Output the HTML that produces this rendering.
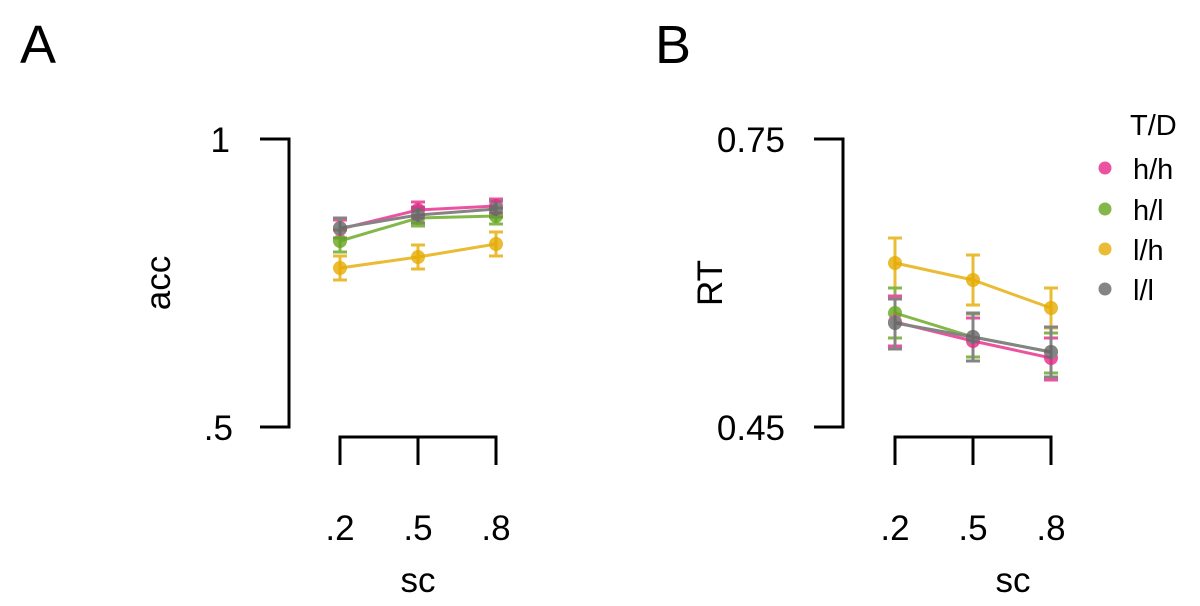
<!DOCTYPE html>
<html><head><style>body{margin:0;background:#fff}svg{display:block}text{font-family:"Liberation Sans",sans-serif;fill:#000}</style></head>
<body>
<svg width="1200" height="606" viewBox="0 0 1200 606" xmlns="http://www.w3.org/2000/svg">
<text x="20" y="63" font-size="54">A</text>
<text x="655" y="63" font-size="54">B</text>
<g stroke="#000" stroke-width="3" fill="none">
<path d="M260 139H289V427H260"/>
<path d="M340 465V437H496V465M418 437V465"/>
<path d="M814 139H843V427H814"/>
<path d="M895 465V437H1051V465M973 437V465"/>
</g>
<g font-size="35" text-anchor="end">
<text x="230" y="152">1</text>
<text x="233" y="440">.5</text>
<text x="785" y="152">0.75</text>
<text x="785" y="440">0.45</text>
</g>
<g font-size="35" text-anchor="middle">
<text x="340" y="540">.2</text><text x="418" y="540">.5</text><text x="496" y="540">.8</text>
<text x="895" y="540">.2</text><text x="973" y="540">.5</text><text x="1051" y="540">.8</text>
<text x="418" y="592">sc</text>
<text x="1013" y="592">sc</text>
<text transform="translate(170,283) rotate(-90)">acc</text>
<text transform="translate(722,283) rotate(-90)">RT</text>
</g>
<g stroke-width="3" fill="none" opacity="0.8">
<g stroke="#e6ab02"><path d="M340 268L418 257L496 244"/><path d="M340 256V280M333 256H347M333 280H347M418 245V269M411 245H425M411 269H425M496 232V256M489 232H503M489 256H503"/></g>
<g stroke="#66a61e"><path d="M340 241L418 218L496 216"/><path d="M340 230V252M333 230H347M333 252H347M418 210V226M411 210H425M411 226H425M496 208V224M489 208H503M489 224H503"/></g>
<g stroke="#e7298a"><path d="M340 229L418 210L496 206"/><path d="M340 220V238M333 220H347M333 238H347M418 202V218M411 202H425M411 218H425M496 199V213M489 199H503M489 213H503"/></g>
<g stroke="#666"><path d="M340 228L418 215L496 209"/><path d="M340 218V238M333 218H347M333 238H347M418 207V223M411 207H425M411 223H425M496 201V217M489 201H503M489 217H503"/></g>
<g stroke="#e6ab02"><path d="M895 263L973 280L1051 308"/><path d="M895 238V288M888 238H902M888 288H902M973 255V305M966 255H980M966 305H980M1051 288V328M1044 288H1058M1044 328H1058"/></g>
<g stroke="#66a61e"><path d="M895 313L973 337L1051 352"/><path d="M895 288V338M888 288H902M888 338H902M973 314V357M966 314H980M966 357H980M1051 333V373M1044 333H1058M1044 373H1058"/></g>
<g stroke="#e7298a"><path d="M895 322L973 341L1051 358"/><path d="M895 296V346M888 296H902M888 346H902M973 318V361M966 318H980M966 361H980M1051 338V380M1044 338H1058M1044 380H1058"/></g>
<g stroke="#666"><path d="M895 323L973 337L1051 352"/><path d="M895 299V349M888 299H902M888 349H902M973 313V361M966 313H980M966 361H980M1051 327V377M1044 327H1058M1044 377H1058"/></g>
</g>
<g opacity="0.8">
<circle cx="340" cy="268" r="7" fill="#e6ab02"/><circle cx="418" cy="257" r="7" fill="#e6ab02"/><circle cx="496" cy="244" r="7" fill="#e6ab02"/>
<circle cx="340" cy="241" r="7" fill="#66a61e"/><circle cx="418" cy="218" r="7" fill="#66a61e"/><circle cx="496" cy="216" r="7" fill="#66a61e"/>
<circle cx="340" cy="229" r="7" fill="#e7298a"/><circle cx="418" cy="210" r="7" fill="#e7298a"/><circle cx="496" cy="206" r="7" fill="#e7298a"/>
<circle cx="340" cy="228" r="7" fill="#666"/><circle cx="418" cy="215" r="7" fill="#666"/><circle cx="496" cy="209" r="7" fill="#666"/>
<circle cx="895" cy="263" r="7" fill="#e6ab02"/><circle cx="973" cy="280" r="7" fill="#e6ab02"/><circle cx="1051" cy="308" r="7" fill="#e6ab02"/>
<circle cx="895" cy="313" r="7" fill="#66a61e"/><circle cx="973" cy="337" r="7" fill="#66a61e"/><circle cx="1051" cy="352" r="7" fill="#66a61e"/>
<circle cx="895" cy="322" r="7" fill="#e7298a"/><circle cx="973" cy="341" r="7" fill="#e7298a"/><circle cx="1051" cy="358" r="7" fill="#e7298a"/>
<circle cx="895" cy="323" r="7" fill="#666"/><circle cx="973" cy="337" r="7" fill="#666"/><circle cx="1051" cy="352" r="7" fill="#666"/>
<circle cx="1105" cy="168" r="6.5" fill="#e7298a"/>
<circle cx="1105" cy="209" r="6.5" fill="#66a61e"/>
<circle cx="1105" cy="249" r="6.5" fill="#e6ab02"/>
<circle cx="1105" cy="289" r="6.5" fill="#666"/>
</g>
<g font-size="29">
<text x="1130" y="135">T/D</text>
<text x="1133" y="179">h/h</text>
<text x="1133" y="220">h/l</text>
<text x="1133" y="260">l/h</text>
<text x="1133" y="300">l/l</text>
</g>
</svg>
</body></html>
